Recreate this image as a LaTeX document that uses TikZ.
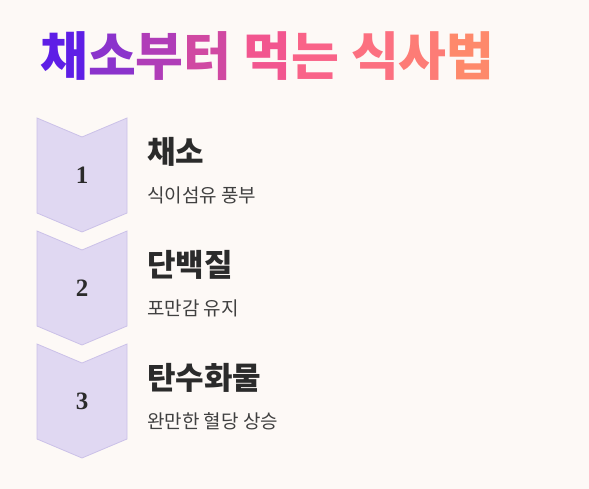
\documentclass[tikz,border=0pt]{standalone}
\usepackage{fontspec}
\setmainfont{Noto Sans CJK KR}
\newfontfamily\numfont{Liberation Serif}
\usetikzlibrary{positioning}

\definecolor{bgcol}{HTML}{FDF9F6}
\definecolor{chevfill}{HTML}{E0D8F2}
\definecolor{chevline}{HTML}{CBC1E8}
\definecolor{inkdark}{HTML}{2B2B2B}
% title gradient, glyph by glyph
\definecolor{tA}{HTML}{5E1EE6}
\definecolor{tB}{HTML}{8B33CC}
\definecolor{tC}{HTML}{B03DB8}
\definecolor{tD}{HTML}{D049A2}
\definecolor{tE}{HTML}{F2568F}
\definecolor{tF}{HTML}{F96388}
\definecolor{tG}{HTML}{FC7080}
\definecolor{tH}{HTML}{FD7C76}
\definecolor{tI}{HTML}{FE896B}

\tikzset{
  chevron/.style={fill=chevfill, draw=chevline, line width=0.8pt},
  stepnum/.style={font=\numfont\bfseries\fontsize{25}{27}\selectfont, text=inkdark},
  heading/.style={anchor=west, inner sep=0pt, text=inkdark,
    font=\bfseries\fontsize{31}{34}\selectfont},
  detail/.style={inner sep=0pt, text=inkdark!90,
    font=\fontsize{19}{21}\selectfont},
}

\begin{document}
\begin{tikzpicture}[x=1pt,y=-1pt]
\fill[bgcol] (0,0) rectangle (589,489);
\useasboundingbox (0,0) rectangle (589,489);

% title
\node[anchor=west, inner sep=0pt, font=\bfseries\fontsize{52}{56}\selectfont] (title) at (40,56)
  {\textcolor{tA}{채}\textcolor{tB}{소}\textcolor{tC}{부}\textcolor{tD}{터} \textcolor{tE}{먹}\textcolor{tF}{는} \textcolor{tG}{식}\textcolor{tH}{사}\textcolor{tI}{법}};

% steps
\foreach \i/\y/\head/\sub in {1/118/채소/식이섬유 풍부,
                              2/231/단백질/포만감 유지,
                              3/344/탄수화물/완만한 혈당 상승} {
  \draw[chevron] (37,\y) -- (82,\y+19) -- (127,\y) -- (127,\y+95)
                 -- (82,\y+114) -- (37,\y+95) -- cycle;
  \node[stepnum] (num\i) at (82,\y+57) {\i};
  \node[heading] (head\i) at (147,\y+34) {\head};
  \node[detail, below right=20pt and 0pt of head\i.south west] (sub\i) {\sub};
}
\end{tikzpicture}
\end{document}
